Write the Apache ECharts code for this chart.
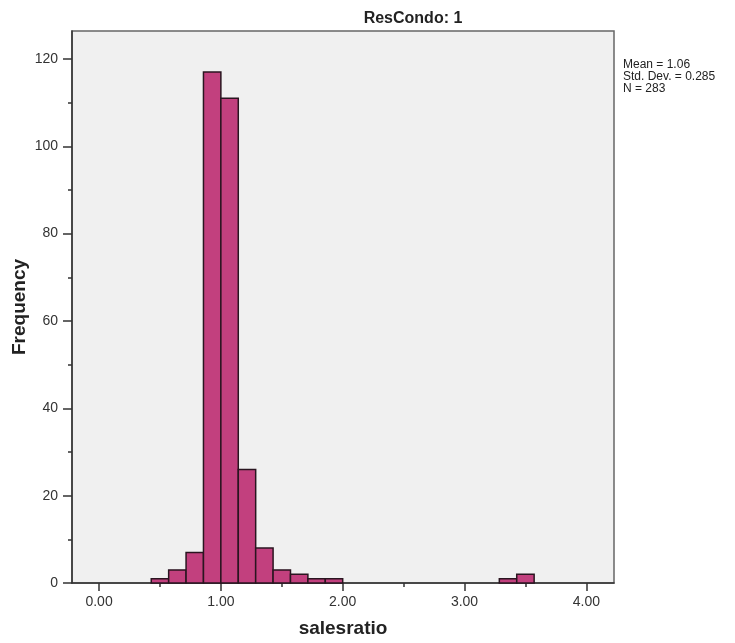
<!DOCTYPE html>
<html>
<head>
<meta charset="utf-8">
<script src="https://cdn.jsdelivr.net/npm/echarts@6/dist/echarts.min.js"></script>
<style>
  html, body { margin: 0; padding: 0; background: #fff; }
  #chart { width: 735px; height: 643px; }
</style>
</head>
<body>
<div id="chart"></div>
<script>
// histogram bins are 1/7 wide; binIndex is the lower edge in sevenths
const binWidth = 1 / 7;
const binIndex = [3, 4, 5, 6, 7, 8, 9, 10, 11, 12, 13, 23, 24];
const counts = [1, 3, 7, 117, 111, 26, 8, 3, 2, 1, 1, 1, 2];

const xMajor = [0, 1, 2, 3, 4];
const xMinor = [0.5, 1.5, 2.5, 3.5];
const yMajor = [0, 20, 40, 60, 80, 100, 120];
const yMinor = [10, 30, 50, 70, 90, 110];

const stats = ['Mean = 1.06', 'Std. Dev. = 0.285', 'N = 283'];
const title = 'ResCondo: 1';

const xMin = -0.222, xMax = 4.227;
const yMax = 126.4;

const bins = binIndex.map((b, i) => [b * binWidth, (b + 1) * binWidth, counts[i]]);

const chart = echarts.init(document.getElementById('chart'));

const axisLineStyle = { color: '#333', width: 1.5 };
const fontFamily = 'Arial, "Liberation Sans", sans-serif';

chart.setOption({
  animation: false,
  backgroundColor: '#fff',
  title: {
    text: title,
    left: 408,
    top: 6,
    textAlign: 'center',
    textStyle: { fontFamily, fontSize: 16, fontWeight: 'bold', color: '#222' }
  },
  grid: {
    left: 72, right: 121, top: 31, bottom: 60,
    containLabel: false,
    outerBoundsMode: 'none',
    show: true,
    backgroundColor: '#f0f0f0',
    borderColor: '#666',
    borderWidth: 1.5
  },
  xAxis: [{
    type: 'value',
    min: xMin, max: xMax,
    position: 'bottom',
    offset: 0,
    name: 'salesratio',
    nameLocation: 'middle',
    nameGap: 36,
    nameMoveOverlap: false,
    nameTextStyle: { fontFamily, fontSize: 19, fontWeight: 'bold', color: '#222' },
    axisLine: { onZero: false, lineStyle: axisLineStyle },
    axisTick: { show: true, length: 8, customValues: xMajor, lineStyle: axisLineStyle },
    axisLabel: {
      customValues: xMajor, margin: 12,
      formatter: v => v.toFixed(2),
      fontFamily, fontSize: 14, color: '#333'
    },
    splitLine: { show: false }
  }, {
    type: 'value',
    min: xMin, max: xMax,
    position: 'bottom',
    offset: 0,
    axisLine: { show: false, onZero: false },
    axisTick: { show: true, length: 4, customValues: xMinor, lineStyle: axisLineStyle },
    axisLabel: { show: false },
    splitLine: { show: false }
  }],
  yAxis: [{
    type: 'value',
    min: 0, max: yMax,
    position: 'left',
    offset: 0,
    name: 'Frequency',
    nameLocation: 'middle',
    nameGap: 43,
    nameMoveOverlap: false,
    nameTextStyle: { fontFamily, fontSize: 19, fontWeight: 'bold', color: '#222' },
    axisLine: { show: true, onZero: false, lineStyle: axisLineStyle },
    axisTick: { show: true, length: 9, customValues: yMajor, lineStyle: axisLineStyle },
    axisLabel: { customValues: yMajor, margin: 14, fontFamily, fontSize: 14, color: '#333' },
    splitLine: { show: false }
  }, {
    type: 'value',
    min: 0, max: yMax,
    position: 'left',
    offset: 0,
    axisLine: { show: false, onZero: false },
    axisTick: { show: true, length: 4, customValues: yMinor, lineStyle: axisLineStyle },
    axisLabel: { show: false },
    splitLine: { show: false }
  }],
  graphic: [{
    type: 'text',
    left: 623,
    top: 59,
    style: {
      text: stats.join('\n'),
      font: '12px Arial, "Liberation Sans", sans-serif',
      lineHeight: 12,
      fill: '#222'
    }
  }],
  series: [{
    type: 'custom',
    xAxisIndex: 0,
    yAxisIndex: 0,
    data: bins,
    renderItem: (params, api) => {
      const p0 = api.coord([api.value(0), api.value(2)]);
      const p1 = api.coord([api.value(1), 0]);
      return {
        type: 'rect',
        shape: { x: p0[0], y: p0[1], width: p1[0] - p0[0], height: p1[1] - p0[1] },
        style: { fill: '#c2407e', stroke: '#2a1520', lineWidth: 1.5 }
      };
    },
    encode: { x: [0, 1], y: 2 }
  }]
});
</script>
</body>
</html>
